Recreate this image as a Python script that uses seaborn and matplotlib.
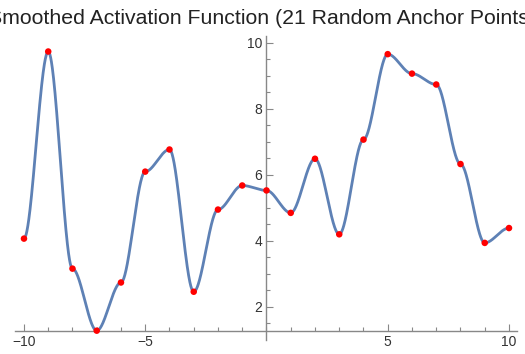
import numpy as np
import pandas as pd
import matplotlib
matplotlib.use('Agg')
import matplotlib.pyplot as plt
import seaborn as sns
from matplotlib.ticker import FixedLocator, MultipleLocator

# anchor points
anchor_x = list(range(-10, 11))
anchor_y = [4.06, 9.73, 3.15, 1.27, 2.73, 6.09, 6.76, 2.45, 4.94, 5.67, 5.52,
            4.84, 6.48, 4.19, 7.06, 9.65, 9.06, 8.73, 6.32, 3.93, 4.38]
x_ticks = [-10, -5, 5, 10]
y_ticks = [2, 4, 6, 8, 10]
title = 'Smoothed Activation Function (21 Random Anchor Points)'

anchors = pd.DataFrame({'x': anchor_x, 'y': anchor_y})

# smooth curve through the anchors (smoothstep blend between neighbours)
xs = np.linspace(anchor_x[0], anchor_x[-1], 2001)
idx = np.clip(np.searchsorted(anchor_x, xs, side='right') - 1, 0, len(anchor_x) - 2)
x0 = np.array(anchor_x)[idx]
t = (xs - x0) / 1.0
s = t * t * (3 - 2 * t)
ay = np.array(anchor_y)
curve = pd.DataFrame({'x': xs, 'y': ay[idx] + (ay[idx + 1] - ay[idx]) * s})

sns.set_style('white')
plt.rcParams['font.family'] = ['Liberation Sans', 'DejaVu Sans']

fig = plt.figure(figsize=(5.25, 3.54), dpi=100)
ax = fig.add_axes([15 / 525, 23 / 354, 502 / 525, 295 / 354])

sns.lineplot(data=curve, x='x', y='y', ax=ax, color='#5E81B5', linewidth=2.0, clip_on=False)
sns.scatterplot(data=anchors, x='x', y='y', ax=ax, color='#FF0000', s=22,
                edgecolor='none', zorder=5, clip_on=False)

ax.set_xlim(-10.37, 10.33)
ax.set_ylim(1.26, 10.2)
ax.set_xlabel('')
ax.set_ylabel('')

for side in ['top', 'right']:
    ax.spines[side].set_visible(False)
ax.spines['left'].set_position(('data', 0))
ax.spines['left'].set_bounds(1.0, 10.2)
for side in ['left', 'bottom']:
    ax.spines[side].set_color('#888888')
    ax.spines[side].set_linewidth(1.0)

ax.xaxis.set_major_locator(FixedLocator(x_ticks))
ax.xaxis.set_minor_locator(MultipleLocator(1))
ax.yaxis.set_major_locator(FixedLocator(y_ticks))
ax.yaxis.set_minor_locator(MultipleLocator(0.5))
ax.set_xticklabels([f'{v}'.replace('-', '\u2212') for v in x_ticks])
ax.set_yticklabels([str(v) for v in y_ticks])

ax.tick_params(axis='both', which='major', direction='in', length=5, width=0.8,
               color='#888888', labelsize=10, labelcolor='#333333', pad=3)
ax.tick_params(axis='both', which='minor', direction='in', length=3, width=0.8,
               color='#888888')
ax.tick_params(axis='x', which='both', bottom=True)
ax.tick_params(axis='y', which='both', left=True)

fig.text(0.5, 1 - 18 / 354, title, ha='center', va='center', fontsize=15.3,
         color='#222222')

fig.savefig('out.png', dpi=100)
